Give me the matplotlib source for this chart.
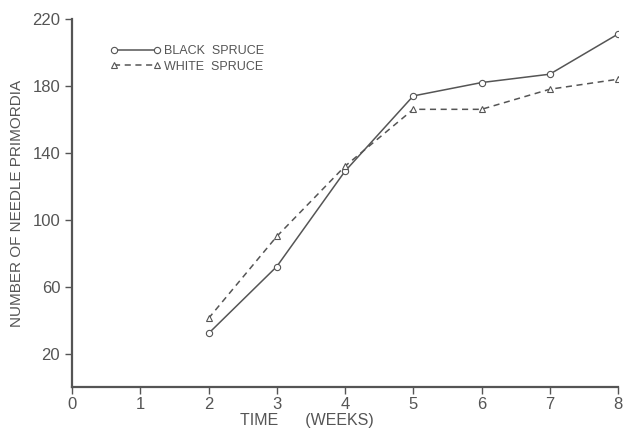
import matplotlib
matplotlib.use("Agg")
import matplotlib.pyplot as plt

weeks = [2, 3, 4, 5, 6, 7, 8]
black_spruce = [32, 72, 129, 174, 182, 187, 211]
white_spruce = [41, 90, 132, 166, 166, 178, 184]
x_ticks = [0, 1, 2, 3, 4, 5, 6, 7, 8]
y_ticks = [20, 60, 100, 140, 180, 220]

ink = "#555555"
plt.rcParams["font.family"] = "Liberation Sans"

fig = plt.figure(figsize=(6.25, 4.32), dpi=100)
ax = fig.add_axes([72 / 625, 1 - 387 / 432, 546 / 625, 368 / 432])

ax.plot(weeks, black_spruce, color=ink, lw=1.1, ls="-", marker="o", ms=4.5,
        mfc="white", mec=ink, mew=0.8, label="BLACK  SPRUCE")
ax.plot(weeks, white_spruce, color=ink, lw=1.1, ls=(0, (4, 3)), marker="^", ms=4.5,
        mfc="white", mec=ink, mew=0.8, label="WHITE  SPRUCE")

ax.set_xlim(0, 8)
ax.set_ylim(0, 220)
ax.set_xticks(x_ticks)
ax.set_yticks(y_ticks)
for s in ["top", "right"]:
    ax.spines[s].set_visible(False)
for s in ["left", "bottom"]:
    ax.spines[s].set_color(ink)
    ax.spines[s].set_linewidth(1.6)
ax.tick_params(colors=ink, labelsize=12, length=5, width=1)
ax.tick_params(axis="x", pad=2)

ax.set_xlabel("TIME      (WEEKS)", color=ink, fontsize=11.5)
ax.xaxis.set_label_coords(0.43, -0.07)
ax.set_ylabel("NUMBER OF NEEDLE PRIMORDIA", color=ink, fontsize=11, labelpad=6)

leg = ax.legend(loc="upper left", bbox_to_anchor=(0.05, 0.96), frameon=False,
                fontsize=9, handlelength=4, numpoints=2, labelcolor=ink,
                labelspacing=0.3, handletextpad=0.3)

fig.savefig("out.png", dpi=100)
